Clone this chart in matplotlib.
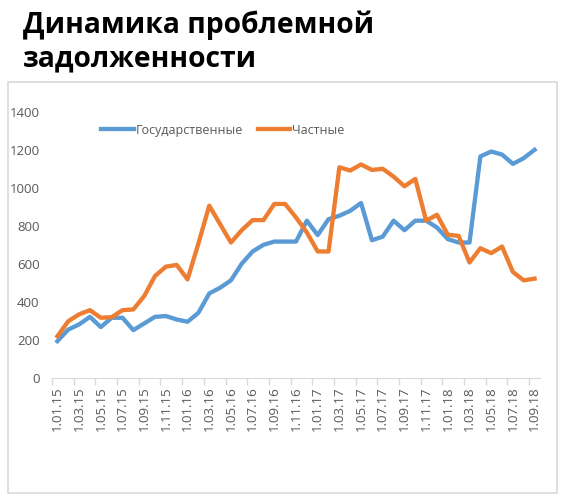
import matplotlib
matplotlib.use("Agg")
import matplotlib.pyplot as plt
from matplotlib.patches import Rectangle

# даты (месяцы), подписи через один
dates = ['1.01.15', '1.02.15', '1.03.15', '1.04.15', '1.05.15', '1.06.15', '1.07.15', '1.08.15',
         '1.09.15', '1.10.15', '1.11.15', '1.12.15', '1.01.16', '1.02.16', '1.03.16', '1.04.16',
         '1.05.16', '1.06.16', '1.07.16', '1.08.16', '1.09.16', '1.10.16', '1.11.16', '1.12.16',
         '1.01.17', '1.02.17', '1.03.17', '1.04.17', '1.05.17', '1.06.17', '1.07.17', '1.08.17',
         '1.09.17', '1.10.17', '1.11.17', '1.12.17', '1.01.18', '1.02.18', '1.03.18', '1.04.18',
         '1.05.18', '1.06.18', '1.07.18', '1.08.18', '1.09.18']

gos = [194, 255, 282, 322, 268, 317, 317, 252, 287, 322, 326, 308, 296, 343, 445, 475,
       514, 602, 666, 701, 718, 718, 718, 828, 752, 836, 854, 880, 921, 725, 744, 828,
       778, 828, 828, 792, 731, 713, 713, 1166, 1192, 1176, 1127, 1157, 1201]

chast = [220, 299, 335, 357, 317, 320, 357, 361, 431, 537, 586, 595, 519, 708, 907, 810,
         713, 778, 831, 831, 916, 916, 845, 766, 666, 666, 1109, 1092, 1124, 1095, 1101, 1060,
         1009, 1048, 828, 859, 754, 748, 608, 683, 657, 692, 558, 514, 523]

blue = '#5B9BD5'
orange = '#ED7D31'
gray = '#595959'

plt.rcParams['font.family'] = ['Open Sans', 'DejaVu Sans']

fig = plt.figure(figsize=(5.65, 4.99), dpi=100)
ax = fig.add_axes([52/565, 1 - 378/499, 488/565, 266/499])

x = list(range(len(dates)))
ax.plot(x, gos, color=blue, linewidth=3.1, label='Государственные', solid_joinstyle='round')
ax.plot(x, chast, color=orange, linewidth=3.1, label='Частные', solid_joinstyle='round')

ax.set_xlim(-0.5, len(dates) - 0.5)
ax.set_ylim(0, 1400)
ax.set_yticks(range(0, 1401, 200))

ax.set_xticks(x[::2])
ax.set_xticklabels(dates[::2], rotation=90, color=gray, fontsize=9.5)
ax.set_xticks([i - 0.5 for i in x[::2]], minor=True)
ax.tick_params(axis='x', which='major', length=0, pad=6)
ax.tick_params(axis='x', which='minor', length=5, color='#D9D9D9', width=1)
ax.tick_params(axis='y', length=0, pad=9, labelcolor=gray, labelsize=9.5)

for s in ['top', 'right', 'left']:
    ax.spines[s].set_visible(False)
ax.spines['bottom'].set_color('#D9D9D9')

ax.legend(loc='center', bbox_to_anchor=(0.35, 0.932), ncol=2, frameon=False,
          fontsize=9, handlelength=2.6, handletextpad=0.15, columnspacing=1.2,
          labelcolor=gray)

# рамка диаграммы
fig.add_artist(Rectangle((8/565, 1 - 493/499), 549/565, 411/499, transform=fig.transFigure,
                         fill=False, edgecolor='#D9D9D9', linewidth=1.2))

fig.text(23/565, 1 - 33/499, 'Динамика проблемной', fontsize=20.3, fontweight='bold', va='baseline')
fig.text(23/565, 1 - 66/499, 'задолженности', fontsize=20.3, fontweight='bold', va='baseline')

fig.savefig('out.png', dpi=100)
